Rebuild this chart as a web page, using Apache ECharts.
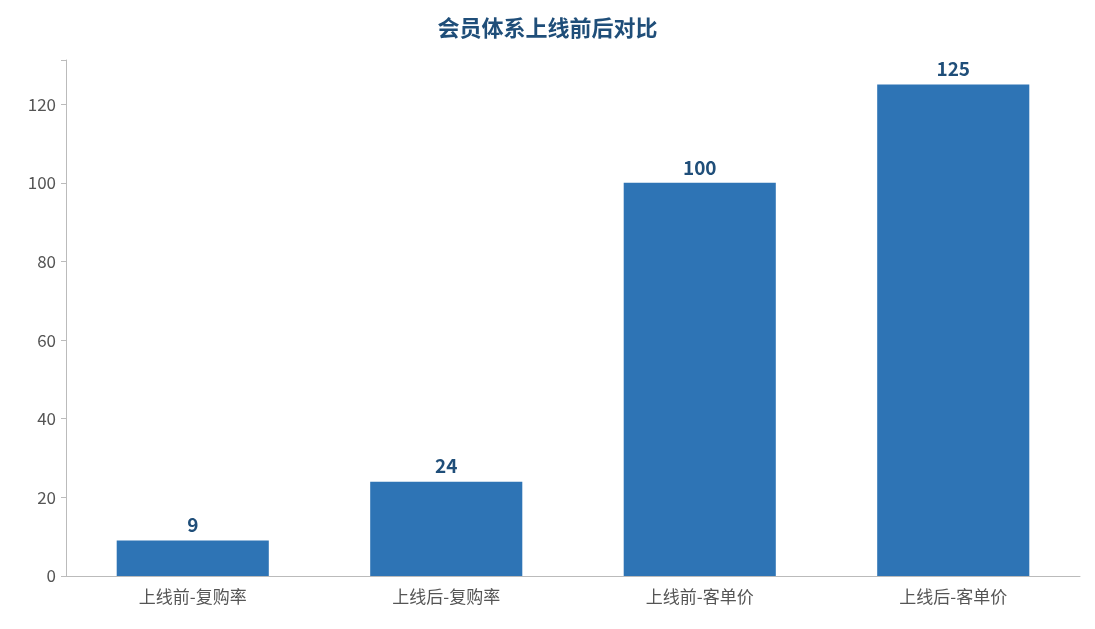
<!DOCTYPE html>
<html><head><meta charset="utf-8">
<script src="https://cdn.jsdelivr.net/npm/echarts@6/dist/echarts.min.js"></script>
<style>html,body{margin:0;padding:0;background:#fff}#c{width:1095px;height:629px}</style>
</head><body><div id="c"></div>
<script>
const categories = ['上线前-复购率','上线后-复购率','上线前-客单价','上线后-客单价'];
const values = [9, 24, 100, 125];
const yTicks = [0, 20, 40, 60, 80, 100, 120];
const font = '"Noto Sans CJK SC","Noto Sans",sans-serif';
const chart = echarts.init(document.getElementById('c'));
chart.setOption({
  animation:false,
  title:{text:'会员体系上线前后对比',left:'center',top:12,textStyle:{color:'#1F4E79',fontSize:22,fontWeight:'bold',fontFamily:font}},
  grid:{left:66,right:15,top:60,bottom:53},
  xAxis:{type:'category',data:categories,
    axisLine:{lineStyle:{color:'#bbb'}},axisTick:{alignWithLabel:true,lineStyle:{color:'#bbb'}},
    axisLabel:{color:'#555',fontSize:17,fontFamily:font,margin:12}},
  yAxis:{type:'value',min:0,max:131.25,interval:20,
    axisLine:{show:true,lineStyle:{color:'#bbb'}},axisTick:{show:true,lineStyle:{color:'#bbb'}},
    splitLine:{show:false},
    axisLabel:{color:'#555',fontSize:17,fontFamily:font,margin:10,
      formatter:v=>yTicks.includes(v)?String(v):''}},
  series:[{type:'bar',data:values,barWidth:'60%',itemStyle:{color:'#2E74B5'},
    label:{show:true,position:'top',color:'#1F4E79',fontWeight:'bold',fontSize:19,fontFamily:font,distance:6}}]
});
</script></body></html>
